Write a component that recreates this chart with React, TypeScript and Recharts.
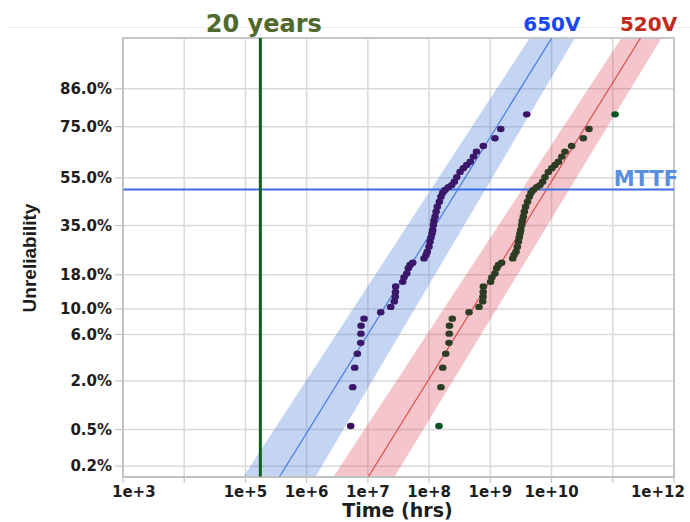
import React from 'react'
import {
  ComposedChart,
  XAxis,
  YAxis,
  CartesianGrid,
  Area,
  Line,
  Scatter,
  ReferenceLine,
  ReferenceDot,
  ReferenceArea,
} from 'recharts'

// failure times in hours, in rank order, for each stress level
const HOURS_650V = [
  5.24e6, 5.65e6, 6.09e6, 6.72e6, 7.63e6, 7.7e6, 7.75e6, 8.65e6, 1.62e7, 2.36e7,
  2.7e7, 2.8e7, 2.82e7, 2.84e7, 3.71e7, 3.89e7, 4.31e7, 4.57e7, 4.88e7, 5.4e7,
  8.26e7, 8.9e7, 9.35e7, 9.96e7, 1.035e8, 1.074e8, 1.115e8, 1.145e8, 1.17e8, 1.2e8,
  1.25e8, 1.3e8, 1.36e8, 1.47e8, 1.56e8, 1.67e8, 1.82e8, 2.06e8, 2.34e8, 2.58e8,
  2.83e8, 3.2e8, 3.62e8, 4.11e8, 4.71e8, 5.31e8, 5.94e8, 7.68e8, 1.19e9, 1.48e9,
  3.93e9,
]
const HOURS_520V = [
  1.45e8, 1.56e8, 1.67e8, 1.87e8, 2.11e8, 2.13e8, 2.15e8, 2.39e8, 4.49e8, 6.53e8,
  7.5e8, 7.6e8, 7.65e8, 7.7e8, 1.01e9, 1.06e9, 1.19e9, 1.27e9, 1.36e9, 1.53e9,
  2.32e9, 2.44e9, 2.63e9, 2.76e9, 2.87e9, 2.97e9, 3.05e9, 3.14e9, 3.26e9, 3.33e9,
  3.46e9, 3.59e9, 3.76e9, 4.05e9, 4.33e9, 4.62e9, 5.04e9, 5.72e9, 6.48e9, 7.17e9,
  7.82e9, 8.85e9, 1.01e10, 1.14e10, 1.29e10, 1.47e10, 1.66e10, 2.13e10, 3.3e10, 4.09e10,
  1.09e11,
]
// unreliability (%) at each rank, same sample size for both levels
const UNRELIABILITY_PCT = [
  0.56, 1.7, 2.8, 3.9, 5.0, 6.1, 7.2, 8.3, 9.4, 10.4,
  11.5, 12.5, 13.6, 14.9, 16.1, 17.3, 18.4, 19.9, 20.9, 21.6,
  23.0, 24.1, 25.2, 27.0, 28.8, 30.4, 31.9, 33.2, 35.2, 36.9,
  38.5, 40.6, 42.7, 44.8, 46.9, 48.6, 49.8, 51.0, 51.9, 53.3,
  55.3, 57.5, 59.0, 60.4, 61.7, 63.8, 65.8, 68.0, 70.9, 74.2,
  79.0,
]

// fitted lines and confidence band edges: [hours, unreliability %] at each end
const FIT_650V = [[3.53e5, 0.1], [1.05e10, 95]]
const BAND_650V_EARLY = [[9.1e4, 0.1], [4.6e9, 95]]
const BAND_650V_LATE = [[1.37e6, 0.1], [2.5e10, 95]]
const FIT_520V = [[1.0e7, 0.1], [2.95e11, 95]]
const BAND_520V_EARLY = [[2.69e6, 0.1], [1.45e11, 95]]
const BAND_520V_LATE = [[2.67e7, 0.1], [6.5e11, 95]]

const X_DOMAIN = [1e3, 1e12]
const X_TICKS = [1e3, 1e4, 1e5, 1e6, 1e7, 1e8, 1e9, 1e10, 1e11, 1e12]
const X_TICK_LABELS = ['1e+3', '', '1e+5', '1e+6', '1e+7', '1e+8', '1e+9', '1e+10', '', '1e+12']
const Y_RANGE_PCT = [0.102, 94.8]
const Y_TICK_PCT = [0.15, 0.5, 2, 6, 10, 18, 35, 55, 75, 86]
const Y_TICK_LABELS = ['0.2%', '0.5%', '2.0%', '6.0%', '10.0%', '18.0%', '35.0%', '55.0%', '75.0%', '86.0%']
const MTTF_PCT = 50
const TWENTY_YEARS_HRS = 20 * 8760

// inverse standard normal CDF (Acklam) for the lognormal probability scale
function probit(p: number) {
  const a = [-39.69683028665376, 220.9460984245205, -275.9285104469687, 138.357751867269, -30.66479806614716, 2.506628277459239]
  const b = [-54.47609879822406, 161.5858368580409, -155.6989798598866, 66.80131188771972, -13.28068155288572]
  const c = [-0.007784894002430293, -0.3223964580411365, -2.400758277161838, -2.549732539343734, 4.374664141464968, 2.938163982698783]
  const d = [0.007784695709041462, 0.3224671290700398, 2.445134137142996, 3.754408661907416]
  const lo = 0.02425
  if (p < lo) {
    const q = Math.sqrt(-2 * Math.log(p))
    return (((((c[0] * q + c[1]) * q + c[2]) * q + c[3]) * q + c[4]) * q + c[5]) / ((((d[0] * q + d[1]) * q + d[2]) * q + d[3]) * q + 1)
  }
  if (p <= 1 - lo) {
    const q = p - 0.5
    const r = q * q
    return ((((((a[0] * r + a[1]) * r + a[2]) * r + a[3]) * r + a[4]) * r + a[5]) * q) / (((((b[0] * r + b[1]) * r + b[2]) * r + b[3]) * r + b[4]) * r + 1)
  }
  const q = Math.sqrt(-2 * Math.log(1 - p))
  return -(((((c[0] * q + c[1]) * q + c[2]) * q + c[3]) * q + c[4]) * q + c[5]) / ((((d[0] * q + d[1]) * q + d[2]) * q + d[3]) * q + 1)
}

const zOf = (pct: number) => probit(pct / 100)

// straight line on the probability plot, evaluated at time t
function lineAt(edge: number[][], t: number) {
  const [[t0, p0], [t1, p1]] = edge
  const f = (Math.log10(t) - Math.log10(t0)) / (Math.log10(t1) - Math.log10(t0))
  return zOf(p0) + f * (zOf(p1) - zOf(p0))
}

const Z_DOMAIN = Y_RANGE_PCT.map(zOf)
const Y_TICKS = Y_TICK_PCT.map(zOf)

const fitRows = X_DOMAIN.map((t) => ({
  t,
  fit650: lineAt(FIT_650V, t),
  band650: [lineAt(BAND_650V_LATE, t), lineAt(BAND_650V_EARLY, t)],
  fit520: lineAt(FIT_520V, t),
  band520: [lineAt(BAND_520V_LATE, t), lineAt(BAND_520V_EARLY, t)],
}))

const points650 = HOURS_650V.map((t, i) => ({ t, z: zOf(UNRELIABILITY_PCT[i]) }))
const points520 = HOURS_520V.map((t, i) => ({ t, z: zOf(UNRELIABILITY_PCT[i]) }))

const FONT = 'DejaVu Sans'

// first and last points of a series get their own (outlier) colour
const dot = (color: string, edgeColor: string, count: number) => (props: any) => {
  const edge = props.index === 0 || props.index === count - 1
  return <ellipse cx={props.cx} cy={props.cy} rx={3.8} ry={3.2} fill={edge ? edgeColor : color} />
}

function TextLabel(props: any) {
  const vb = props.viewBox ?? { x: 0, y: 0, width: 0, height: 0 }
  const { text, dx = 0, dy = 0, anchor = 'middle', color, size, useRight = false } = props
  const x = (useRight ? vb.x + (vb.width ?? 0) : vb.x) + dx
  return (
    <text x={x} y={vb.y + dy} textAnchor={anchor} fill={color} fontSize={size} fontWeight={700} fontFamily={FONT}>
      {text}
    </text>
  )
}

function XTick(props: any) {
  const { x, y, payload, index } = props
  const label = X_TICK_LABELS[X_TICKS.indexOf(payload.value)] ?? ''
  let anchor = 'middle'
  let shift = 0
  if (index === 0) {
    anchor = 'start'
    shift = -11
  } else if (index === X_TICKS.length - 1) {
    anchor = 'end'
    shift = 11
  }
  return (
    <text x={x + shift} y={y} dy="0.71em" textAnchor={anchor} fill="#1d1d1d" fontSize={15} fontWeight={700} fontFamily={FONT}>
      {label}
    </text>
  )
}

function XTitle(props: any) {
  const vb = props.viewBox
  return (
    <text x={vb.x + vb.width / 2 - 1} y={517} textAnchor="middle" fill="#1d1d1d" fontSize={19} fontWeight={700} fontFamily={FONT}>
      Time (hrs)
    </text>
  )
}

function YTitle() {
  return (
    <text transform="translate(36, 258) rotate(-90)" textAnchor="middle" fill="#1d1d1d" fontSize={19} fontWeight={700} fontFamily="Liberation Sans">
      Unreliability
    </text>
  )
}

export default function App() {
  return (
    <div style={{ position: 'absolute', left: 0, top: 0, width: 690, height: 522, background: '#fff' }}>
      <div style={{ position: 'absolute', left: 8, top: 27, width: 682, height: 1, background: '#ececec' }} />
      <ComposedChart
        width={690}
        height={522}
        data={fitRows}
        margin={{ top: 38, right: 16, bottom: 0, left: 0 }}
        style={{ fontFamily: FONT }}
      >
        <CartesianGrid stroke="#d9d9d9" strokeWidth={1.5} />
        <XAxis
          dataKey="t"
          type="number"
          scale="log"
          domain={X_DOMAIN}
          ticks={X_TICKS}
          allowDataOverflow
          interval={0}
          height={45}
          tickSize={6}
          tickMargin={3}
          stroke="#bdbdbd"
          tick={<XTick />}
          label={<XTitle />}
        />
        <YAxis
          type="number"
          domain={Z_DOMAIN}
          ticks={Y_TICKS}
          allowDataOverflow
          interval={0}
          width={123}
          tickSize={8}
          tickMargin={3}
          stroke="#bdbdbd"
          tick={{ fill: '#1d1d1d', fontSize: 15, fontWeight: 700, fontFamily: FONT }}
          tickFormatter={(v: number) => Y_TICK_LABELS[Y_TICKS.indexOf(v)] ?? ''}
          label={<YTitle />}
        />
        <Area
          dataKey="band650"
          type="linear"
          stroke="none"
          fill="#3a6fd8"
          fillOpacity={0.3}
          isAnimationActive={false}
        />
        <Area
          dataKey="band520"
          type="linear"
          stroke="none"
          fill="#d9404f"
          fillOpacity={0.3}
          isAnimationActive={false}
        />
        <Line dataKey="fit650" type="linear" stroke="#4a7be0" strokeWidth={1.2} dot={false} isAnimationActive={false} />
        <Line dataKey="fit520" type="linear" stroke="#d9504f" strokeWidth={1.2} dot={false} isAnimationActive={false} />
        <ReferenceLine
          y={zOf(MTTF_PCT)}
          stroke="#3b6fe8"
          strokeWidth={2}
          label={<TextLabel text="MTTF" anchor="end" useRight dx={4} dy={-4} color="#5a8fe0" size={21} />}
        />
        <ReferenceLine
          x={TWENTY_YEARS_HRS}
          stroke="#0b6218"
          strokeWidth={3}
          label={<TextLabel text="20 years" dx={3.5} dy={-6} color="#4f6a2c" size={24} />}
        />
        <Scatter
          data={points650}
          dataKey="z"
          shape={dot('#3a1768', '#3a1060', points650.length)}
          isAnimationActive={false}
        />
        <Scatter
          data={points520}
          dataKey="z"
          shape={dot('#2d3d23', '#0b5426', points520.length)}
          isAnimationActive={false}
        />
        <ReferenceDot
          x={FIT_650V[1][0]}
          y={Z_DOMAIN[1]}
          r={1}
          fill="none"
          stroke="none"
          label={<TextLabel text="650V" dx={0} dy={-6} color="#1846f2" size={20} />}
        />
        <ReferenceDot
          x={FIT_520V[1][0]}
          y={Z_DOMAIN[1]}
          r={1}
          fill="none"
          stroke="none"
          label={<TextLabel text="520V" dx={8} dy={-6} color="#c42a1c" size={20} />}
        />
        <ReferenceArea
          x1={X_DOMAIN[0]}
          x2={X_DOMAIN[1]}
          y1={Z_DOMAIN[0]}
          y2={Z_DOMAIN[1]}
          fill="none"
          stroke="#c6c6c6"
          strokeWidth={2}
          ifOverflow="visible"
        />
      </ComposedChart>
    </div>
  )
}
